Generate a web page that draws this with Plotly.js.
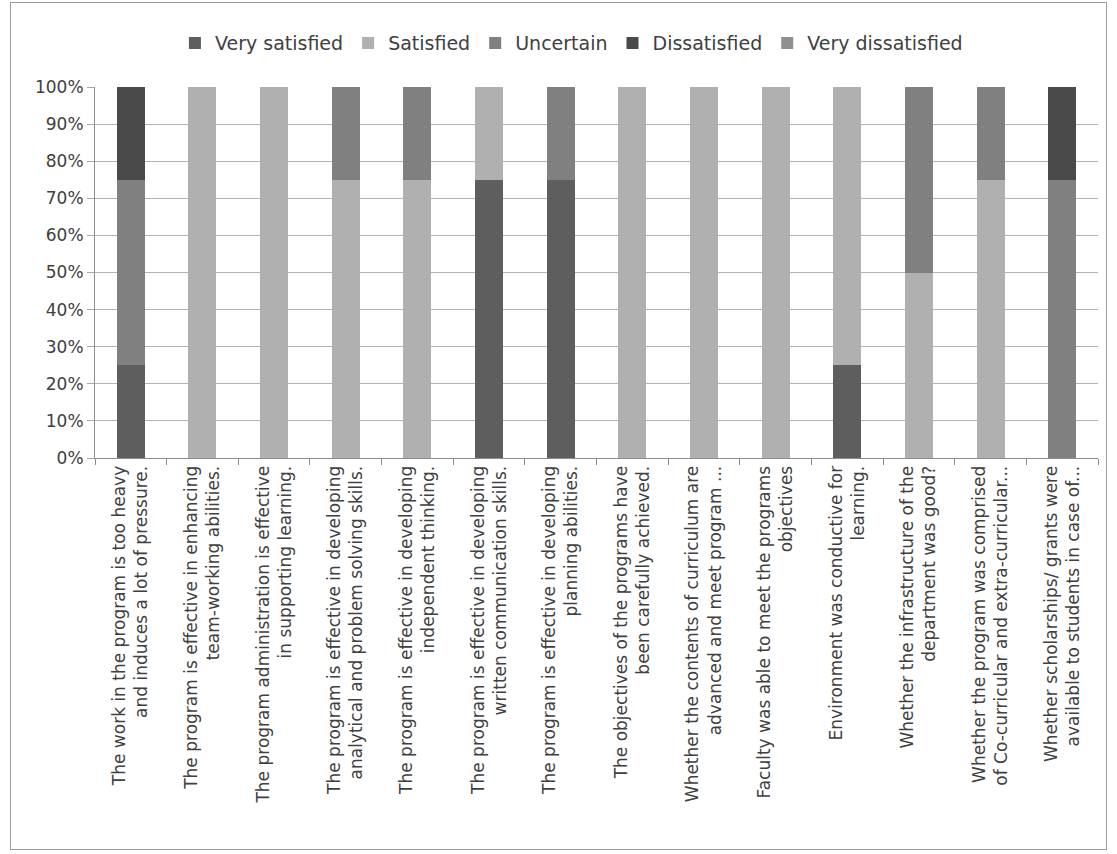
<!DOCTYPE html>
<html>
<head>
<meta charset="utf-8">
<script src="https://cdn.plot.ly/plotly-3.0.1.min.js"></script>
<style>
  html, body { margin: 0; padding: 0; background: #ffffff; }
  #wrap { position: relative; width: 1117px; height: 854px; }
  #chart { position: absolute; left: 0; top: 0; width: 1117px; height: 854px; }
  #frame { position: absolute; left: 10px; top: 2px; width: 1097px; height: 848px; border: 1px solid #9a9a9a; pointer-events: none; box-sizing: border-box; }
</style>
</head>
<body>
<div id="wrap">
  <div id="chart"></div>
  <div id="frame"></div>
</div>
<script>
const categories = [
  "The work in the program is too heavy<br>and induces a lot of pressure.",
  "The program is effective in enhancing<br>team-working abilities.",
  "The program administration is effective<br>in supporting learning.",
  "The program is effective in developing<br>analytical and problem solving skills.",
  "The program is effective in developing<br>independent thinking.",
  "The program is effective in developing<br>written communication skills.",
  "The program is effective in developing<br>planning abilities.",
  "The objectives of the programs have<br>been carefully achieved.",
  "Whether the contents of curriculum are<br>advanced and meet program ...",
  "Faculty was able to meet the programs<br>objectives",
  "Environment was conductive for<br>learning.",
  "Whether the infrastructure of the<br>department was good?",
  "Whether the program was comprised<br>of Co-curricular and extra-curricular...",
  "Whether scholarships/ grants were<br>available to students in case of..."
];

const seriesNames = ["Very satisfied", "Satisfied", "Uncertain", "Dissatisfied", "Very dissatisfied"];

const verySatisfied    = [25,   0,   0,  0,  0, 75, 75,   0,   0,   0, 25,  0,  0,  0];
const satisfied        = [ 0, 100, 100, 75, 75, 25,  0, 100, 100, 100, 75, 50, 75,  0];
const uncertain        = [50,   0,   0, 25, 25,  0, 25,   0,   0,   0,  0, 50, 25, 75];
const dissatisfied     = [25,   0,   0,  0,  0,  0,  0,   0,   0,   0,  0,  0,  0, 25];
const veryDissatisfied = [ 0,   0,   0,  0,  0,  0,  0,   0,   0,   0,  0,  0,  0,  0];

const yTickValues = [0, 10, 20, 30, 40, 50, 60, 70, 80, 90, 100];
const yTickLabels = ["0%", "10%", "20%", "30%", "40%", "50%", "60%", "70%", "80%", "90%", "100%"];

const seriesValues = [verySatisfied, satisfied, uncertain, dissatisfied, veryDissatisfied];
const seriesColors = ["#5e5e5e", "#b0b0b0", "#808080", "#4a4a4a", "#8f8f8f"];

const traces = seriesNames.map((name, i) => ({
  type: "bar",
  name: name,
  x: categories,
  y: seriesValues[i],
  marker: { color: seriesColors[i], line: { width: 0 } },
  hoverinfo: "x+y+name"
}));

const layout = {
  width: 1117,
  height: 854,
  margin: { l: 95, r: 19, t: 87, b: 396, pad: 0 },
  paper_bgcolor: "rgba(0,0,0,0)",
  plot_bgcolor: "#ffffff",
  barmode: "stack",
  bargap: 0.61,
  font: { family: "DejaVu Sans, sans-serif", color: "#404040", size: 17 },
  showlegend: true,
  legend: {
    orientation: "h",
    x: 0.475,
    xanchor: "center",
    y: 1.118,
    yanchor: "middle",
    traceorder: "normal",
    font: { family: "DejaVu Sans, sans-serif", size: 19, color: "#404040" },
    bgcolor: "rgba(0,0,0,0)",
    itemclick: false
  },
  xaxis: {
    type: "category",
    tickangle: -90,
    tickson: "boundaries",
    ticks: "outside",
    ticklen: 6,
    tickcolor: "#8c8c8c",
    showline: true,
    linecolor: "#8c8c8c",
    linewidth: 1,
    showgrid: false,
    tickfont: { family: "DejaVu Sans, sans-serif", size: 17, color: "#404040" },
    automargin: false
  },
  yaxis: {
    range: [0, 100],
    tickmode: "array",
    tickvals: yTickValues,
    ticktext: yTickLabels,
    ticks: "outside",
    ticklen: 7,
    tickcolor: "#a6a6a6",
    showline: true,
    linecolor: "#8c8c8c",
    linewidth: 1,
    showgrid: true,
    gridcolor: "#b3b3b3",
    gridwidth: 1,
    zeroline: false,
    tickfont: { family: "DejaVu Sans, sans-serif", size: 17, color: "#404040" },
    automargin: false
  }
};

Plotly.newPlot("chart", traces, layout, { displayModeBar: false, staticPlot: true });
</script>
</body>
</html>
